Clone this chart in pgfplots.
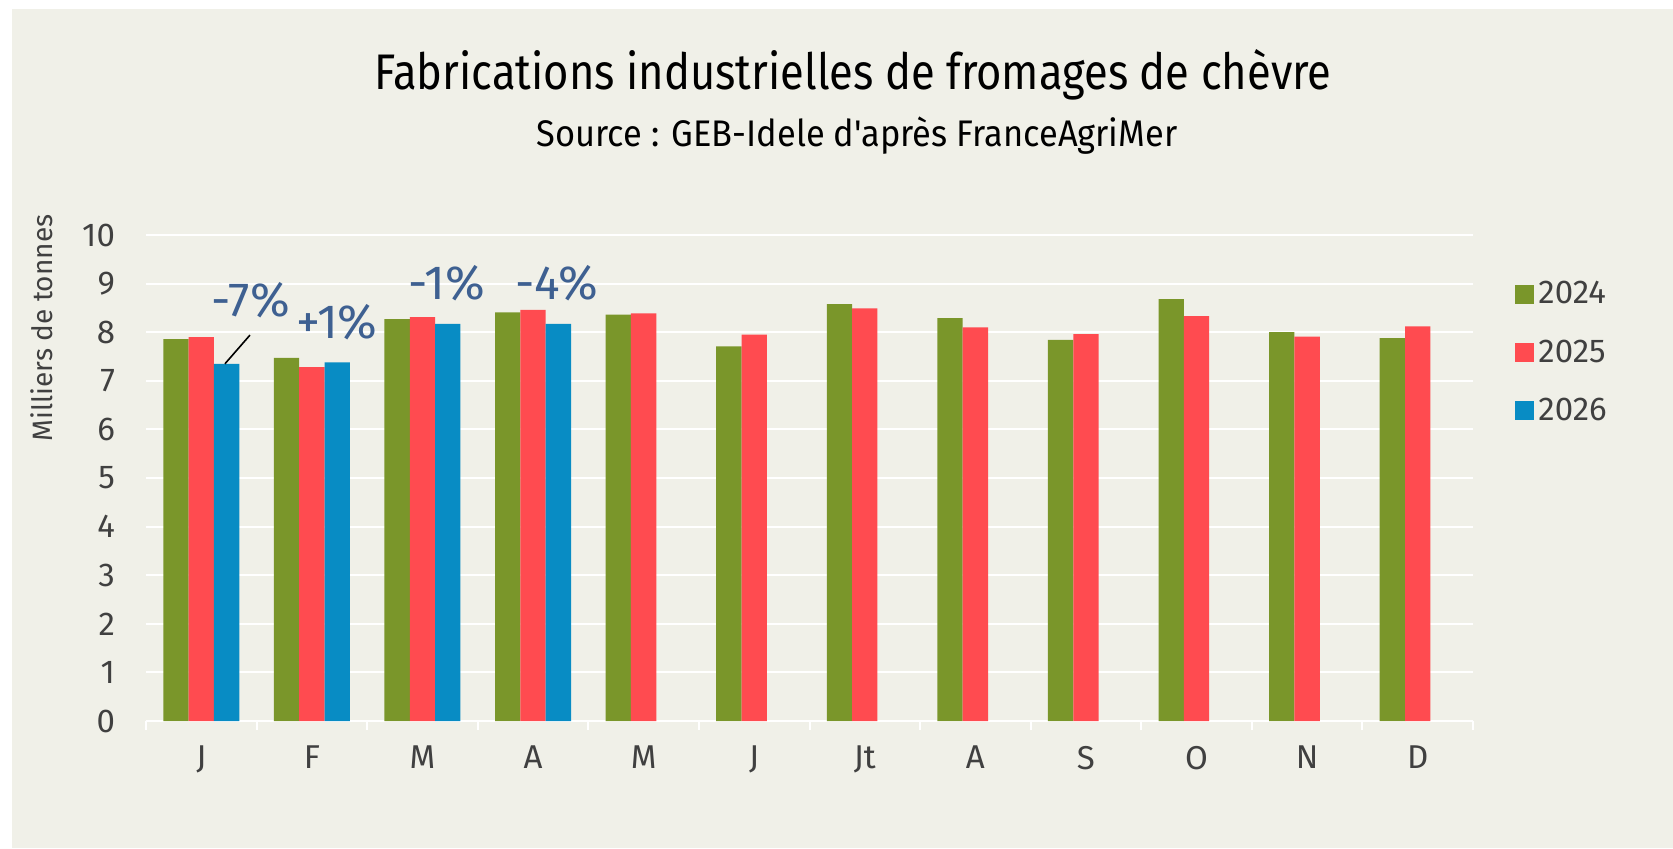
\documentclass[border=0pt]{standalone}
\usepackage{fontspec}
\setmainfont{Fira Sans}
\newfontfamily\titlefont[FakeStretch=0.87]{Fira Sans}
\newfontfamily\subfont[FakeStretch=0.93]{Fira Sans}
\usepackage{pgfplots}
\pgfplotsset{compat=1.18}
\definecolor{bg}{RGB}{240,240,232}
\definecolor{g24}{RGB}{122,150,42}
\definecolor{r25}{RGB}{255,75,80}
\definecolor{b26}{RGB}{8,140,196}
\definecolor{pct}{RGB}{62,96,145}
\definecolor{txt}{RGB}{64,64,64}
\begin{document}
\begin{tikzpicture}[x=1pt,y=1pt]
\fill[white] (0,0) rectangle (836.5,424);
\fill[bg] (6,0) rectangle (836.5,419.5);
\node[font=\titlefont\fontsize{25}{30}\selectfont, text=black] at (426.5,386.5) {Fabrications industrielles de fromages de chèvre};
\node[font=\subfont\fontsize{18.5}{22}\selectfont, text=black] at (428.5,356) {Source : GEB-Idele d'après FranceAgriMer};
\node[rotate=90, font=\fontsize{14}{16}\selectfont, text=txt] at (21,260) {Milliers de tonnes};
\begin{axis}[
  at={(73pt,63.5pt)}, anchor=south west,
  scale only axis, width=663.5pt, height=243pt,
  ybar=0pt, bar width=0.229,
  xmin=-0.5, xmax=11.5, ymin=0, ymax=10,
  xtick={0,...,11}, xticklabels={J,F,M,A,M,J,Jt,A,S,O,N,D},
  minor xtick={-0.5,0.5,...,11.5},
  ytick={0,...,10},
  axis line style={draw=none},
  ymajorgrids, grid style={white, line width=1pt},
  major tick length=0pt, minor tick length=4.5pt,
  tick align=outside, xtick pos=bottom, ytick pos=left,
  minor tick style={white, line width=1pt},
  /pgf/number format/assume math mode=true,
  tick label style={font=\fontsize{16.5}{18}\selectfont, text=txt},
  yticklabel style={xshift=-12pt},
  xticklabel style={yshift=-9pt},
  legend style={draw=none, fill=none, at={(axis description cs:1,1)}, anchor=north west,
    xshift=18pt, yshift=-19pt, row sep=12.5pt, font=\fontsize{16.5}{18}\selectfont, text=txt,
    legend cell align=left},
  legend image code/.code={\fill[#1] (-3pt,-4.75pt) rectangle (6.5pt,4.75pt);},
]
\addplot[fill=g24, draw=none] coordinates {(0,7.86) (1,7.47) (2,8.27) (3,8.41) (4,8.36) (5,7.71) (6,8.58) (7,8.29) (8,7.84) (9,8.68) (10,8.00) (11,7.88)};
\addplot[fill=r25, draw=none] coordinates {(0,7.90) (1,7.28) (2,8.31) (3,8.46) (4,8.39) (5,7.95) (6,8.49) (7,8.10) (8,7.96) (9,8.33) (10,7.91) (11,8.12)};
\addplot[fill=b26, draw=none] coordinates {(0,7.35) (1,7.38) (2,8.17) (3,8.17)};
\legend{2024,2025,2026}
\node[font=\fontsize{24}{28}\selectfont, text=pct] at (axis cs:0.449,8.66) {-7\%};
\node[font=\fontsize{24}{28}\selectfont, text=pct] at (axis cs:1.227,8.21) {+1\%};
\node[font=\fontsize{24}{28}\selectfont, text=pct] at (axis cs:2.22,9.01) {-1\%};
\node[font=\fontsize{24}{28}\selectfont, text=pct] at (axis cs:3.216,9.01) {-4\%};
\draw[black, line width=0.8pt] (axis cs:0.44,7.94) -- (axis cs:0.214,7.35);
\end{axis}
\end{tikzpicture}
\end{document}
